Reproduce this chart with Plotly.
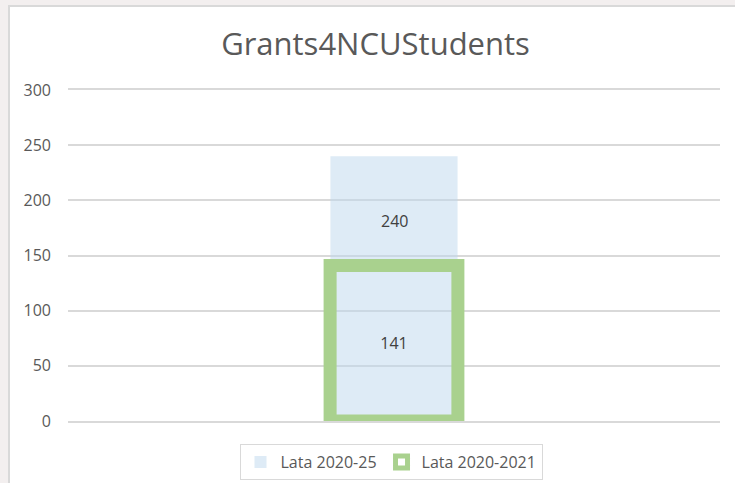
import plotly.graph_objects as go

categories = ["Grants"]
series_names = ["Lata 2020-25", "Lata 2020-2021"]
values_2020_25 = [240]
values_2020_2021 = [141]
y_ticks = [0, 50, 100, 150, 200, 250, 300]

W, H = 735, 483
ml, mr, mt, mb = 68, 15, 90, 62
pw = W - ml - mr
ph = H - mt - mb

def px_x(x):
    return (x - ml) / pw

def px_y(y):
    return (H - mb - y) / ph

FONT = "Open Sans"
GREY = "#595959"
GRID = "#d9d9d9"

fig = go.Figure()
fig.add_trace(go.Bar(
    x=categories, y=values_2020_25, name=series_names[0],
    width=0.195,
    marker=dict(color="rgba(189,215,238,0.5)", line=dict(width=0)),
    hoverinfo="skip",
))
fig.add_trace(go.Bar(
    x=categories, y=values_2020_2021, name=series_names[1],
    width=0.196,
    marker=dict(color="rgba(0,0,0,0)", line=dict(color="#A9D18E", width=13)),
    text=[str(v) for v in values_2020_2021],
    textposition="inside", insidetextanchor="middle",
    textfont=dict(family=FONT, size=16, color="#404040"),
    hoverinfo="skip",
))

for c, big, small in zip(categories, values_2020_25, values_2020_2021):
    fig.add_annotation(x=c, y=(big + small) / 2, text=str(big), showarrow=False,
                       yshift=-10, font=dict(family=FONT, size=16, color="#404040"))

fig.add_shape(type="rect", xref="paper", yref="paper", layer="below",
              x0=px_x(9), x1=px_x(745), y0=px_y(495), y1=px_y(6),
              fillcolor="white", line=dict(color="#d9d9d9", width=2))

fig.update_layout(
    width=W, height=H,
    margin=dict(l=ml, r=mr, t=mt, b=mb, autoexpand=False),
    paper_bgcolor="#f3efef",
    plot_bgcolor="rgba(0,0,0,0)",
    barmode="overlay",
    title=dict(text="Grants4NCUStudents", x=375.5 / W, xanchor="center",
               yref="container", y=(H - 44) / H, yanchor="middle",
               font=dict(family=FONT, size=31, color=GREY)),
    font=dict(family=FONT, color=GREY),
    xaxis=dict(showticklabels=False, showgrid=False, zeroline=False,
               showline=True, mirror=True, linecolor=GRID, linewidth=1.5,
               range=[-0.5, 0.5], fixedrange=True),
    yaxis=dict(range=[0, 300], tickvals=y_ticks, showgrid=True,
               gridcolor=GRID, gridwidth=1.5, zeroline=False,
               ticks="", ticklabelstandoff=16, fixedrange=True,
               tickfont=dict(family=FONT, size=16, color=GREY)),
    showlegend=True,
    legend=dict(orientation="h", x=px_x(391), xanchor="center",
                y=px_y(444), yanchor="top", itemwidth=30,
                bgcolor="white", bordercolor="#d9d9d9", borderwidth=1,
                font=dict(family=FONT, size=16, color=GREY)),
)

fig.write_html("out.html", config={"displayModeBar": False},
               post_script="document.body.style.margin='0';document.body.style.overflow='hidden';")
